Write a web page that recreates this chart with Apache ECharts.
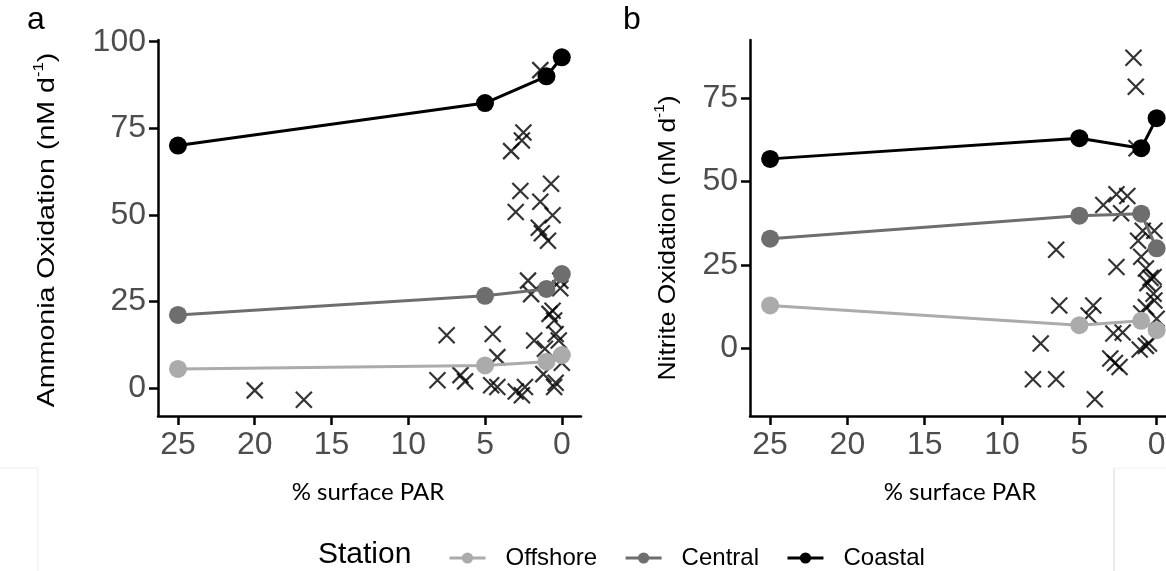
<!DOCTYPE html>
<html>
<head>
<meta charset="utf-8">
<script src="https://cdn.jsdelivr.net/npm/echarts@6/dist/echarts.min.js"></script>
<style>
  html, body { margin: 0; padding: 0; background: #ffffff; }
  #chart { width: 1166px; height: 571px; }
</style>
</head>
<body>
<div id="chart"></div>
<script>
// ---------- data ----------
const stations = ['Offshore', 'Central', 'Coastal'];
const stationColors = ['#ababab', '#6e6e6e', '#000000'];
const parLevels = [25, 5, 1, 0];
const xTicks = [0, 5, 10, 15, 20, 25];
const yTicksAmmonia = [0, 25, 50, 75, 100];
const yTicksNitrite = [0, 25, 50, 75];

// Ammonia oxidation (panel a), one value per PAR level
const ammOffshore = [5.5, 6.5, 7.6, 9.5];
const ammCentral = [21.1, 26.6, 28.6, 32.9];
const ammCoastal = [70.0, 82.3, 90.0, 95.5];
// individual measurements (crosses), panel a
const ammCrossX = [20, 16.8, 8.1, 7.5, 6.6, 6.3, 4.5, 4.2, 4.6, 4.2,
  3.3, 2.6, 2.5, 3.0, 2.7, 3.0, 2.4, 2.6, 2.2, 2.0,
  1.8, 1.4, 1.5, 1.3, 0.9, 0.7, 0.6, 1.1, 1.2, 0.5,
  0.8, 0.5, 0.6, 0.4, 0.2, 0.1, 0.1, 0.0, 0.4, 1.4];
const ammCrossY = [-0.7, -3.4, 2.2, 15.2, 3.7, 1.9, 15.6, 8.9, 0.8, 0.3,
  68.4, 71.5, 73.8, 50.8, 56.9, -1.0, 0.3, -2.1, 31.0, 27.1,
  13.7, 53.8, 46.3, 44.7, 42.5, 59.0, 49.9, 11.3, 4.0, 0.3,
  21.4, 19.5, 22.3, 15.6, 13.7, 31.0, 28.8, 7.3, 1.5, 91.8];

// Nitrite oxidation (panel b)
const nitOffshore = [12.9, 7.0, 8.3, 5.5];
const nitCentral = [32.9, 39.8, 40.4, 30.0];
const nitCoastal = [56.8, 63.0, 60.0, 69.0];
const nitCrossX = [1.5, 1.35, 1.3, 6.5, 6.3, 4.1, 7.5, 8.0, 6.5, 4.0,
  3.45, 2.6, 1.9, 2.3, 2.6, 2.8, 2.2, 3.0, 2.7, 2.4,
  1.2, 0.9, 0.15, 1.0, 0.7, 0.4, 0.6, 0.2, 0.15, 0.7,
  1.0, 0.0, 1.1, 0.7, 0.5, 4.4, 0.2];
const nitCrossY = [87.1, 78.4, 60.0, 29.6, 12.9, 12.9, 1.5, -9.2, -9.2, -15.2,
  43.0, 46.2, 45.7, 40.5, 24.4, 4.5, 4.8, -3.0, -4.3, -5.5,
  32.3, 35.3, 35.3, 27.5, 24.0, 21.1, 19.6, 16.4, 14.4, 12.4,
  10.5, 8.9, -0.3, 0.8, 1.5, 9.9, 21.4];

// ---------- helpers ----------
const pair = (xs, ys) => xs.map((x, i) => [x, ys[i]]);
const tickFont = 'Liberation Sans, Arial, sans-serif';
const crossPath = 'path://M0,0L10,10M10,0L0,10';

function xAxisFor(gridIndex) {
  return {
    gridIndex, type: 'value', inverse: true, min: -1.25, max: 26.3,
    axisLine: { show: true, onZero: false, lineStyle: { color: '#000', width: 2.5 } },
    axisTick: { show: true, length: 9, lineStyle: { color: '#000', width: 2.5 }, customValues: xTicks },
    axisLabel: { color: '#4d4d4d', fontSize: 32, fontFamily: tickFont, margin: 13, customValues: xTicks },
    splitLine: { show: false }
  };
}
function yAxisFor(gridIndex, min, max, ticks) {
  return {
    gridIndex, type: 'value', min, max,
    axisLine: { show: true, onZero: false, lineStyle: { color: '#000', width: 2.5 } },
    axisTick: { show: true, length: 9, lineStyle: { color: '#000', width: 2.5 }, customValues: ticks },
    axisLabel: { color: '#4d4d4d', fontSize: 32, fontFamily: tickFont, margin: 12, customValues: ticks },
    splitLine: { show: false }
  };
}
function lineSeries(idx, station, values, color) {
  return {
    type: 'line', name: station, xAxisIndex: idx, yAxisIndex: idx,
    data: pair(parLevels, values), symbol: 'circle', symbolSize: 18,
    showSymbol: true, z: 5,
    lineStyle: { color, width: 3 }, itemStyle: { color }
  };
}
function crossSeries(idx, xs, ys) {
  return {
    type: 'scatter', xAxisIndex: idx, yAxisIndex: idx, data: pair(xs, ys),
    symbol: crossPath, symbolSize: 16, z: 3,
    itemStyle: { color: 'rgba(0,0,0,0)', borderColor: '#000', borderWidth: 2.2 }
  };
}
function yTitle(text, x, y, stretch) {
  return {
    type: 'text', x, y, rotation: Math.PI / 2, scaleX: stretch, scaleY: 1,
    style: {
      text, align: 'center', verticalAlign: 'middle', fill: '#000',
      font: '24px Liberation Sans, Arial, sans-serif',
      rich: { sup: { fontSize: 14, verticalAlign: 'top', lineHeight: 30, fontFamily: tickFont, fill: '#000' } }
    }
  };
}
function xTitle(text, x, y) {
  return {
    type: 'text', x, y,
    style: { text, align: 'center', verticalAlign: 'middle', fill: '#000', font: '24px Lato, sans-serif' }
  };
}

const chart = echarts.init(document.getElementById('chart'), null, { renderer: 'canvas' });
chart.setOption({
  backgroundColor: '#ffffff',
  animation: false,
  grid: [
    { left: 158, top: 40, width: 423, height: 376, outerBoundsMode: 'none', containLabel: false },
    { left: 750, top: 40, width: 426, height: 376, outerBoundsMode: 'none', containLabel: false }
  ],
  xAxis: [xAxisFor(0), xAxisFor(1)],
  yAxis: [
    yAxisFor(0, -8.1, 100.5, yTicksAmmonia),
    yAxisFor(1, -20.2, 92.4, yTicksNitrite)
  ],
  legend: {
    data: stations, left: 443, top: 541, itemWidth: 36, itemHeight: 14, itemGap: 27,
    lineStyle: { width: 3 },
    textStyle: { fontFamily: tickFont, fontSize: 24, color: '#000', padding: [0, 0, 0, 15] }
  },
  graphic: [
    { type: 'text', left: 27, top: 4, style: { text: 'a', font: '32px Liberation Sans, Arial', fill: '#000' } },
    { type: 'text', left: 623, top: 4, style: { text: 'b', font: '32px Liberation Sans, Arial', fill: '#000' } },
    yTitle('Ammonia Oxidation (nM d{sup|-1})', 47, 230, 1.19),
    yTitle('Nitrite Oxidation (nM d{sup|-1})', 668, 238, 1.1),
    xTitle('% surface PAR', 368, 492),
    xTitle('% surface PAR', 960, 492),
    { type: 'text', left: 318, top: 540, style: { text: 'Station', font: '30px Liberation Sans, Arial', fill: '#000' } },
    { type: 'line', shape: { x1: 0, y1: 468, x2: 38, y2: 468 }, style: { stroke: '#ececec', lineWidth: 1 } },
    { type: 'line', shape: { x1: 38, y1: 468, x2: 38, y2: 571 }, style: { stroke: '#ececec', lineWidth: 1 } },
    { type: 'line', shape: { x1: 1114, y1: 468, x2: 1114, y2: 571 }, style: { stroke: '#e4e4e4', lineWidth: 1.5 } },
    { type: 'line', shape: { x1: 1114, y1: 468, x2: 1166, y2: 468 }, style: { stroke: '#f2f2f2', lineWidth: 1 } }
  ],
  series: [
    crossSeries(0, ammCrossX, ammCrossY),
    crossSeries(1, nitCrossX, nitCrossY),
    lineSeries(0, stations[0], ammOffshore, stationColors[0]),
    lineSeries(0, stations[1], ammCentral, stationColors[1]),
    lineSeries(0, stations[2], ammCoastal, stationColors[2]),
    lineSeries(1, stations[0], nitOffshore, stationColors[0]),
    lineSeries(1, stations[1], nitCentral, stationColors[1]),
    lineSeries(1, stations[2], nitCoastal, stationColors[2])
  ]
});
</script>
</body>
</html>
